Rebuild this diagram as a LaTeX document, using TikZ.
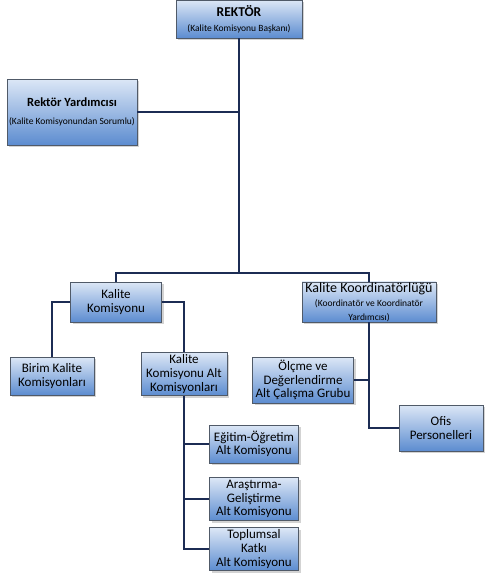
\documentclass[tikz,border=0pt]{standalone}
\usepackage{fontspec}
\setmainfont{Carlito}
\usepackage{tikz}
\usetikzlibrary{positioning, shadows}
\definecolor{boxtop}{RGB}{220,231,246}
\definecolor{boxmid}{RGB}{164,191,230}
\definecolor{boxbot}{RGB}{92,140,208}
\definecolor{boxline}{RGB}{80,90,104}
\definecolor{linkcol}{RGB}{28,44,84}
\newcommand\subtxt[1]{{\fontsize{9.5}{10.5}\selectfont #1}}

\begin{document}
\begin{tikzpicture}[
  x=1pt, y=-1pt,
  every node/.style={font=\fontsize{13}{13.6}\selectfont, align=center, inner sep=0.5pt},
  unit/.style={draw=boxline, line width=0.5pt, top color=boxtop, middle color=boxmid, bottom color=boxbot,
               drop shadow={shadow xshift=2pt, shadow yshift=-2pt, opacity=0.35}},
  link/.style={draw=linkcol, line width=1.7pt}
]
  \useasboundingbox (0,0) rectangle (486,582);

  % --- top level ---
  \node (rektor) [unit, minimum width=126pt, minimum height=38pt] at (239,19)
    {{\fontsize{13.5}{14}\selectfont\bfseries REKTÖR}\\[1pt]\subtxt{(Kalite Komisyonu Başkanı)}};
  \node (yard) [unit, minimum width=130pt, minimum height=66pt] at (72,112)
    {{\fontsize{12.5}{13}\selectfont\bfseries Rektör Yardımcısı}\\[5pt]\subtxt{(Kalite Komisyonundan Sorumlu)}};

  % --- second level ---
  \node (komisyon) [unit, minimum width=91pt, minimum height=40pt] at (116,302)
    {Kalite\\Komisyonu};
  \node (koord) [unit, minimum width=134pt, minimum height=40pt] at (369,302)
    {{\fontsize{14}{14.5}\selectfont Kalite Koordinatörlüğü}\\[1pt]\subtxt{(Koordinatör ve Koordinatör}\\\subtxt{Yardımcısı)}};

  % --- third level ---
  \node (birim) [unit, minimum width=84pt, minimum height=38pt] at (52,376)
    {Birim Kalite\\Komisyonları};
  \node (altkom) [unit, minimum width=86pt, minimum height=43pt] at (184,374)
    {Kalite\\Komisyonu Alt\\Komisyonları};
  \node (olcme) [unit, minimum width=101pt, minimum height=46pt] at (303,380)
    {Ölçme ve\\Değerlendirme\\Alt Çalışma Grubu};
  \node (ofis) [unit, minimum width=84pt, minimum height=46pt] at (441,428)
    {Ofis\\Personelleri};

  % --- sub commissions ---
  \node (egitim) [unit, minimum width=89pt, minimum height=38pt] at (254,444)
    {Eğitim-Öğretim\\Alt Komisyonu};
  \node (arge) [unit, minimum width=89pt, minimum height=43pt] at (254,499)
    {Araştırma-\\Geliştirme\\Alt Komisyonu};
  \node (katki) [unit, minimum width=89pt, minimum height=43pt] at (254,549)
    {Toplumsal\\Katkı\\Alt Komisyonu};

  % --- connectors ---
  \coordinate (bus) at (239,273);
  \draw[link] (rektor.south) -- (bus);
  \draw[link] (yard.east) -- (rektor.south |- yard.east);
  \draw[link] (komisyon.north) |- (bus) -| (koord.north);
  \draw[link] (komisyon.west) -| (birim.north);
  \draw[link] (komisyon.east) -| (altkom.north);
  \draw[link] (koord.south) |- (olcme.east);
  \draw[link] (koord.south) |- (ofis.west);
  \draw[link] (altkom.south) |- (egitim.west);
  \draw[link] (altkom.south) |- (arge.west);
  \draw[link] (altkom.south) |- (katki.west);
\end{tikzpicture}
\end{document}
